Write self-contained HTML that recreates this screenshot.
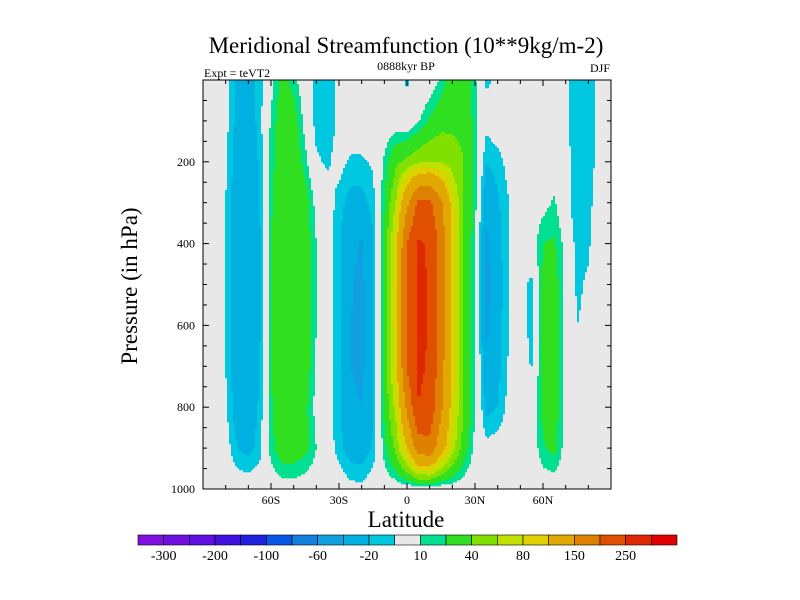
<!DOCTYPE html>
<html><head><meta charset="utf-8"><style>
body{margin:0;background:#fff;}
svg{display:block;font-family:"Liberation Serif",serif;}
</style></head><body>
<svg id="chart" width="800" height="600">
<rect width="800" height="600" fill="#fff"/>
<text x="406" y="53" font-size="23" text-anchor="middle">Meridional Streamfunction (10**9kg/m-2)</text>
<text x="204" y="77" font-size="12">Expt = teVT2</text>
<text x="406" y="70" font-size="12" text-anchor="middle">0888kyr BP</text>
<text x="610" y="72" font-size="12" text-anchor="end">DJF</text>
<text transform="translate(137,286) rotate(-90)" font-size="23" text-anchor="middle">Pressure (in hPa)</text>
<text x="406" y="527" font-size="23" text-anchor="middle">Latitude</text>
<g id="field"></g>
<g id="axes"></g>
<g id="cbar"></g>
</svg>
<script>
const lats=[-90,-85,-80,-75,-70,-65,-60,-55,-50,-45,-40,-35,-30,-25,-20,-15,-10,-5,0,5,10,15,20,25,30,35,40,45,50,55,60,65,70,75,80,85,90];
const pLevels=[0,100,200,300,400,500,600,700,800,900,1000];
// rows by pressure level, columns by latitude
const row0  =[0,0,-5,-22,-28,-15,5,25,15,0,-15,-15,-8,0,0,0,0,-5,-12,-5,0,12,30,32,12,-12,-8,-3,-3,0,0,0,-5,-20,-20,-5,0];
const row100=[0,0,-5,-25,-30,-15,12,30,28,5,-15,-15,-8,0,0,0,0,0,-3,8,22,32,35,35,15,-5,0,0,0,0,0,0,-5,-20,-18,-3,0];
const row200=[0,0,-8,-28,-32,-18,15,32,32,15,-8,-12,-5,-12,-12,-8,12,35,45,55,60,60,50,40,15,-20,-15,-5,0,0,0,0,-3,-20,-18,-3,0];
const row300=[0,0,-10,-30,-32,-20,18,33,35,28,5,-3,-15,-25,-25,-15,20,60,140,210,210,160,85,40,15,-35,-22,-10,0,0,5,12,-3,-20,-15,0,0];
const row400=[0,0,-10,-30,-33,-22,20,33,35,30,10,-3,-18,-35,-42,-22,25,85,200,255,245,180,95,40,12,-45,-25,-10,-3,3,20,22,5,-15,-12,0,0];
const row500=[0,0,-10,-30,-33,-22,20,35,35,30,10,-3,-18,-38,-45,-22,25,90,210,258,248,180,95,40,12,-48,-28,-10,-4,-14,25,28,5,-12,-8,0,0];
const row600=[0,0,-10,-30,-33,-22,20,35,35,30,10,-3,-18,-40,-45,-22,25,90,210,258,248,180,95,40,12,-45,-25,-10,-4,-14,28,30,5,-10,-8,0,0];
const row700=[0,0,-10,-30,-33,-20,20,35,35,30,8,-3,-18,-40,-45,-22,25,85,205,258,245,170,90,40,12,-35,-25,-8,-3,-11,25,28,5,0,0,0,0];
const row800=[0,0,-8,-28,-30,-18,18,35,35,25,5,-3,-18,-35,-40,-22,25,65,160,250,235,160,85,40,12,-25,-20,-5,0,-3,25,30,3,0,0,0,0];
const row900=[0,0,-3,-20,-25,-15,15,30,30,25,10,-3,-15,-28,-30,-18,15,45,100,175,185,120,70,30,5,-5,-3,0,0,0,18,25,3,0,0,0,0];
const row1000=[0,0,0,0,0,0,0,3,3,0,0,0,0,-5,-6,0,0,0,-2,-3,-4,-2,0,0,0,0,0,0,0,0,0,0,0,0,0,0,0];
const rows=[row0,row100,row200,row300,row400,row500,row600,row700,row800,row900,row1000];
const levels=[-300,-250,-200,-150,-100,-80,-60,-40,-20,-10,10,20,40,60,80,100,150,200,250,300];
const cbLabels=["-300","-200","-100","-60","-20","10","40","80","150","250"];
const colors=["#8010e0","#7010e0","#6010e0","#4010e0","#2020e0","#0858e8","#1080e0","#10a0e0","#00b0e0","#00c8e0","#e8e8e8","#00e090","#30e020","#80e000","#c0e000","#e0d000","#e0a800","#e08000","#e05000","#e02800","#e00000"];
const xTicks=[-60,-30,0,30,60];
const xTickLabels=["60S","30S","0","30N","60N"];
const yTicks=[200,400,600,800,1000];

const NS="http://www.w3.org/2000/svg";
const X0=203,X1=611,Y0=80,Y1=489;
const xs=l=>X0+(l+90)/180*(X1-X0);
const ys=p=>Y0+p/1000*(Y1-Y0);
function val(lat,p){
  let i=Math.min(lats.length-2,Math.max(0,Math.floor((lat-lats[0])/(lats[1]-lats[0]))));
  let j=Math.min(pLevels.length-2,Math.max(0,Math.floor((p-pLevels[0])/(pLevels[1]-pLevels[0]))));
  const tx=(lat-lats[i])/(lats[i+1]-lats[i]), ty=(p-pLevels[j])/(pLevels[j+1]-pLevels[j]);
  const a=rows[j][i],b=rows[j][i+1],c=rows[j+1][i],d=rows[j+1][i+1];
  return (a*(1-tx)+b*tx)*(1-ty)+(c*(1-tx)+d*tx)*ty;
}
function ci(v){let k=0;while(k<levels.length&&v>=levels[k])k++;return k;}
const field=document.getElementById('field');
const bg=document.createElementNS(NS,'rect');
bg.setAttribute('x',X0);bg.setAttribute('y',Y0);bg.setAttribute('width',X1-X0);bg.setAttribute('height',Y1-Y0);bg.setAttribute('fill',colors[10]);


field.appendChild(bg);
const S=2;
for(let y=Y0;y<Y1;y+=S){
  const p=(y+S/2-Y0)/(Y1-Y0)*1000;
  let start=X0,cur=-1;
  for(let x=X0;x<=X1;x+=S){
    let k=-1;
    if(x<X1){const lat=(x+S/2-X0)/(X1-X0)*180-90;k=ci(val(lat,p));}
    if(k!==cur){
      if(cur>=0&&cur!==10){
        const r=document.createElementNS(NS,'rect');
        r.setAttribute('x',start);r.setAttribute('y',y);
        r.setAttribute('width',Math.min(x,X1)-start);r.setAttribute('height',S+0.3);
        r.setAttribute('fill',colors[cur]);
        
        
        field.appendChild(r);
      }
      cur=k;start=x;
    }
  }
}
const ax=document.getElementById('axes');
function line(x1,y1,x2,y2,name){const l=document.createElementNS(NS,'line');l.setAttribute('x1',x1);l.setAttribute('y1',y1);l.setAttribute('x2',x2);l.setAttribute('y2',y2);l.setAttribute('stroke','#000');l.setAttribute('stroke-width','1');


ax.appendChild(l);}
function text(x,y,s,anchor,size,name){const t=document.createElementNS(NS,'text');t.setAttribute('x',x);t.setAttribute('y',y);t.setAttribute('text-anchor',anchor);t.setAttribute('font-size',size);t.textContent=s;


ax.appendChild(t);return t;}
const fr=document.createElementNS(NS,'rect');
fr.setAttribute('x',X0);fr.setAttribute('y',Y0);fr.setAttribute('width',X1-X0);fr.setAttribute('height',Y1-Y0);fr.setAttribute('fill','none');fr.setAttribute('stroke','#000');


ax.appendChild(fr);
for(let l=-80;l<=80;l+=10){const x=xs(l),maj=xTicks.includes(l)?6:4;line(x,Y1,x,Y1-maj,'x-tick');line(x,Y0,x,Y0+maj,'x-tick-top');}
xTicks.forEach((l,i)=>text(xs(l),Y1+15,xTickLabels[i],'middle',12,'x-tick-label'));
for(let p=50;p<1000;p+=50){const y=ys(p),maj=yTicks.includes(p)?6:4;line(X0,y,X0+maj,y,'y-tick');line(X1,y,X1-maj,y,'y-tick-right');}
yTicks.forEach(p=>text(X0-8,ys(p)+4,String(p),'end',12,'y-tick-label'));
const cb=document.getElementById('cbar');
const C0=138,C1=677,CY=535,CH=10,n=colors.length,w=(C1-C0)/n;
colors.forEach((c,i)=>{const r=document.createElementNS(NS,'rect');r.setAttribute('x',C0+i*w);r.setAttribute('y',CY);r.setAttribute('width',w);r.setAttribute('height',CH);r.setAttribute('fill',c);r.setAttribute('stroke','#000');r.setAttribute('stroke-width','0.6');


cb.appendChild(r);});
cbLabels.forEach((s,i)=>{const t=document.createElementNS(NS,'text');t.setAttribute('x',C0+(2*i+1)*w);t.setAttribute('y',CY+CH+15);t.setAttribute('text-anchor','middle');t.setAttribute('font-size','14');t.textContent=s;


cb.appendChild(t);});
</script>
</body></html>
